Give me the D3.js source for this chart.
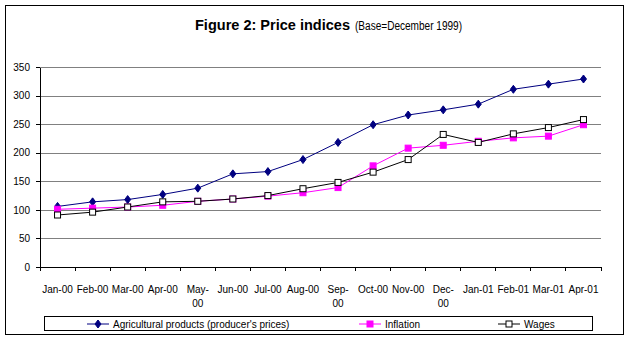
<!DOCTYPE html>
<html>
<head>
<meta charset="utf-8">
<script src="https://cdn.jsdelivr.net/npm/d3@7"></script>
<style>
  body { margin: 0; background: #fff; }
  text { font-family: Arial, "Liberation Sans", sans-serif; }
</style>
</head>
<body>
<div id="chart"></div>
<script>
'use strict'

// months (category axis), "\n" marks where Excel wrapped the label
const months = ["Jan-00", "Feb-00", "Mar-00", "Apr-00", "May-\n00", "Jun-00", "Jul-00", "Aug-00",
    "Sep-\n00", "Oct-00", "Nov-00", "Dec-\n00", "Jan-01", "Feb-01", "Mar-01", "Apr-01"]

const agricultural = [106, 114, 118, 127, 138, 163, 167, 188, 218, 249, 266, 275, 285, 311, 320, 329]
const inflation = [101, 103, 105, 108, 115, 119, 124, 130, 139, 177, 208, 213, 220, 226, 229, 249]
const wages = [91, 96, 105, 114, 115, 119, 125, 137, 148, 166, 188, 232, 218, 233, 244, 258]

const yTicks = [0, 50, 100, 150, 200, 250, 300, 350]

const seriesNames = ["Agricultural products (producer's prices)", "Inflation", "Wages"]

////////////////////////////////////
//////////// svg setup /////////////
////////////////////////////////////
const svgWidth = 632
const svgHeight = 340
const margin = { left: 40, right: 31, top: 67, bottom: 73 }
const width = svgWidth - margin.left - margin.right
const height = svgHeight - margin.top - margin.bottom

const root = d3.select('#chart').append('svg')
    .attr('width', svgWidth)
    .attr('height', svgHeight)

// outer chart frame
root.append('rect')
    .attr('x', 5.5).attr('y', 5.5)
    .attr('width', 618).attr('height', 329)
    .attr('fill', '#fff').attr('stroke', '#000')

// title
root.append('text')
    .attr('x', 195).attr('y', 30)
    .attr('font-size', '14px').attr('font-weight', 'bold')
    .attr('textLength', 155).attr('lengthAdjust', 'spacingAndGlyphs')
    .text('Figure 2: Price indices')
root.append('text')
    .attr('x', 355).attr('y', 30)
    .attr('font-size', '12px')
    .attr('textLength', 107).attr('lengthAdjust', 'spacingAndGlyphs')
    .text('(Base=December 1999)')

const svg = root.append('g')
    .attr('transform', `translate(${margin.left},${margin.top})`)

////////////////////////////////////
//////////// Scales ////////////////
////////////////////////////////////
const x = d3.scaleBand().domain(months).range([0, width])
const y = d3.scaleLinear().domain([0, 350]).range([height, 0])
const cx = d => x(d) + x.bandwidth() / 2

////////////////////////////////////
//////////// Axis //////////////////
////////////////////////////////////
const yGrid = d3.axisLeft(y).tickValues(yTicks.slice(1)).tickSize(-width).tickFormat('')
svg.append('g').call(yGrid)
    .call(g => g.select('.domain').remove())
    .selectAll('line').attr('stroke', '#808080').attr('shape-rendering', 'crispEdges')

const yAxis = d3.axisLeft(y).tickValues(yTicks).tickSize(4).tickSizeOuter(0).tickPadding(6)
svg.append('g').call(yAxis)
    .call(g => g.selectAll('text').attr('font-size', '10px').attr('fill', '#000'))
    .call(g => g.selectAll('line, .domain').attr('stroke', '#000').attr('shape-rendering', 'crispEdges'))

// category axis: ticks sit between months
const xAxisG = svg.append('g').attr('transform', `translate(0,${height})`)
xAxisG.append('line')
    .attr('x1', 0).attr('x2', width)
    .attr('stroke', '#000').attr('shape-rendering', 'crispEdges')
xAxisG.selectAll('.xt')
    .data(months.map(m => x(m)).concat([width]))
    .join('line')
    .attr('x1', d => d).attr('x2', d => d)
    .attr('y1', 0).attr('y2', 4)
    .attr('stroke', '#000').attr('shape-rendering', 'crispEdges')

const xLabels = xAxisG.selectAll('.xl')
    .data(months)
    .join('text')
    .attr('text-anchor', 'middle')
    .attr('font-size', '10px')
    .attr('transform', d => `translate(${cx(d)},26)`)
xLabels.selectAll('tspan')
    .data(d => d.split('\n'))
    .join('tspan')
    .attr('x', 0)
    .attr('dy', (d, i) => i === 0 ? 0 : 14)
    .text(d => d)

////////////////////////////////////
//////////// Series ////////////////
////////////////////////////////////
const line = d3.line().x((d, i) => cx(months[i])).y(d => y(d))

const diamond = s => `M0,${-s}L${s * 0.75},0L0,${s}L${-s * 0.75},0Z`

function drawMarker(g, type) {
    if (type === 'diamond') {
        g.append('path').attr('d', diamond(4)).attr('fill', '#000080').attr('stroke', '#000080')
    } else if (type === 'filled') {
        g.append('rect').attr('x', -3).attr('y', -3).attr('width', 6).attr('height', 6)
            .attr('fill', '#ff00ff').attr('stroke', '#ff00ff')
    } else {
        g.append('rect').attr('x', -3).attr('y', -3).attr('width', 6).attr('height', 6)
            .attr('fill', '#fff').attr('stroke', '#000')
    }
}

const series = [
    { values: agricultural, color: '#000080', marker: 'diamond' },
    { values: inflation, color: '#ff00ff', marker: 'filled' },
    { values: wages, color: '#000', marker: 'hollow' }
]

series.forEach(s => {
    svg.append('path')
        .datum(s.values)
        .attr('d', line)
        .attr('fill', 'none')
        .attr('stroke', s.color)
        .attr('stroke-width', 1)

    svg.append('g').selectAll('g')
        .data(s.values)
        .join('g')
        .attr('transform', (d, i) => `translate(${cx(months[i])},${y(d)})`)
        .each(function () { drawMarker(d3.select(this), s.marker) })
})

////////////////////////////////////
//////////// Legend ////////////////
////////////////////////////////////
const legend = root.append('g')
legend.append('rect')
    .attr('x', 44.5).attr('y', 316.5)
    .attr('width', 548).attr('height', 14)
    .attr('fill', '#fff').attr('stroke', '#000')

const legendX = [87, 359, 498]
series.forEach((s, i) => {
    const g = legend.append('g').attr('transform', `translate(${legendX[i]},324)`)
    g.append('line').attr('x1', 0).attr('x2', 22).attr('stroke', s.color)
    drawMarker(g.append('g').attr('transform', 'translate(11,0)'), s.marker)
    g.append('text')
        .attr('x', 26).attr('y', 4)
        .attr('font-size', '10px')
        .text(seriesNames[i])
})
</script>
</body>
</html>
